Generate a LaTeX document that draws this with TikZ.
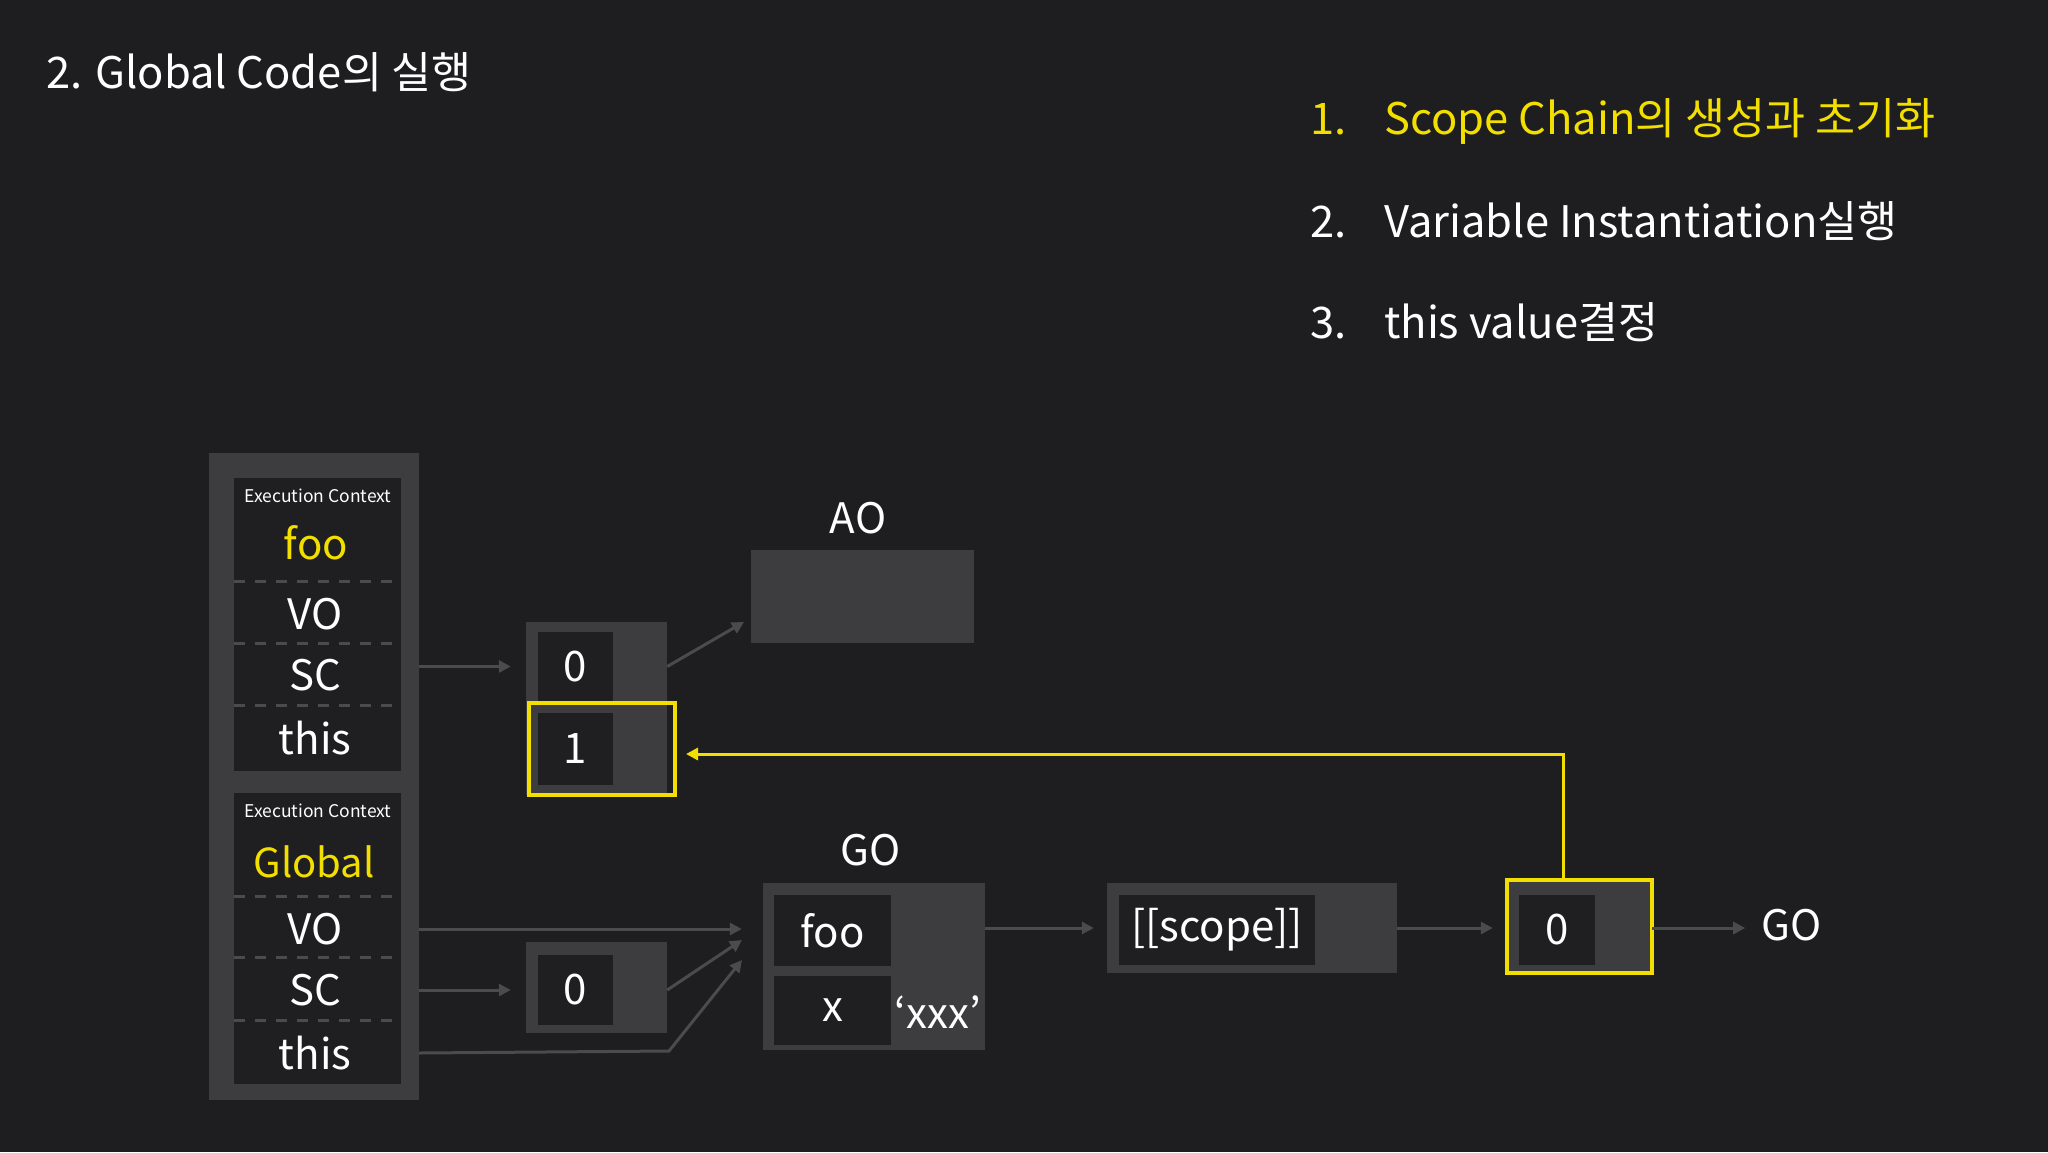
\documentclass[tikz,border=0pt]{standalone}
\usepackage{fontspec}
\setmainfont{Noto Sans CJK KR}
\usepackage{tikz}
\usetikzlibrary{arrows.meta, positioning, calc}
\definecolor{bgcol}{HTML}{1E1E20}
\definecolor{boxgray}{HTML}{3D3D3F}
\definecolor{cellcol}{HTML}{1F1F21}
\definecolor{linkgray}{HTML}{4B4B4D}
\definecolor{hlyellow}{HTML}{F2DF00}
\newcommand{\bigtxt}{\fontsize{42}{50}\selectfont}
\newcommand{\headtxt}{\fontsize{43.5}{52}\selectfont}
\newcommand{\smalltxt}{\fontsize{17.5}{21}\selectfont}
\tikzset{
  outerbox/.style={fill=boxgray, draw=none, inner sep=0pt},
  cellbox/.style={fill=cellcol, draw=none, inner sep=0pt},
  hlbox/.style={draw=hlyellow, line width=4pt, inner sep=0pt},
  lbl/.style={text=white, font=\bigtxt, inner sep=0pt},
  link/.style={draw=linkgray, line width=3pt, -{Triangle[length=12pt,width=12pt]}, shorten >=15pt},
  hlink/.style={draw=hlyellow, line width=3pt, -{Triangle[length=12pt,width=12pt]}},
  sep/.style={draw=linkgray, line width=3pt, dash pattern=on 11pt off 10pt}
}
\begin{document}
\begin{tikzpicture}[x=1pt, y=-1pt]
  \fill[bgcol] (0,0) rectangle (2048,1152);
  \useasboundingbox (0,0) rectangle (2048,1152);

  % headings
  \node (title) [anchor=base west, text=white, font=\headtxt, inner sep=0pt] at (46,88) {2. Global Code의 실행};
  \node (step1n) [anchor=base west, text=hlyellow, font=\headtxt, inner sep=0pt] at (1310,134) {1.};
  \node (step1) [anchor=base west, text=hlyellow, font=\headtxt, inner sep=0pt] at (1384,134) {Scope Chain의 생성과 초기화};
  \node (step2n) [anchor=base west, text=white, font=\headtxt, inner sep=0pt] at (1310,237) {2.};
  \node (step2) [anchor=base west, text=white, font=\headtxt, inner sep=0pt] at (1384,237) {Variable Instantiation실행};
  \node (step3n) [anchor=base west, text=white, font=\headtxt, inner sep=0pt] at (1310,338) {3.};
  \node (step3) [anchor=base west, text=white, font=\headtxt, inner sep=0pt] at (1384,338) {this value결정};

  % execution context stack
  \node (ecstack) [outerbox, minimum width=210pt, minimum height=647pt] at (314,776.5) {};
  \node (fooec) [cellbox, minimum width=167pt, minimum height=293pt] at (317.5,624.5) {};
  \node (globec) [cellbox, minimum width=167pt, minimum height=291pt] at (317.5,938.5) {};

  \node (fooectitle) [lbl, font=\smalltxt] at (318,496) {Execution Context};
  \node (fooname) [lbl, text=hlyellow] at (316,543) {foo};
  \node (foovo) [lbl] at (315,614) {VO};
  \node (foosc) [lbl] at (315,675) {SC};
  \node (foothis) [lbl] at (315,738) {this};
  \draw[sep] (234,581) -- (401,581);
  \draw[sep] (234,643) -- (401,643);
  \draw[sep] (234,705) -- (401,705);

  \node (globectitle) [lbl, font=\smalltxt] at (318,811) {Execution Context};
  \node (globname) [lbl, text=hlyellow, font=\fontsize{40}{48}\selectfont] at (314,862) {Global};
  \node (globvo) [lbl] at (315,929) {VO};
  \node (globsc) [lbl] at (315,990) {SC};
  \node (globthis) [lbl] at (315,1053) {this};
  \draw[sep] (234,896) -- (401,896);
  \draw[sep] (234,957) -- (401,957);
  \draw[sep] (234,1020) -- (401,1020);

  % scope chain of foo
  \node (foochain) [outerbox, minimum width=141pt, minimum height=173pt] at (596.5,708.5) {};
  \node (foocell0) [cellbox, minimum width=75pt, minimum height=69pt] at (575.5,666.5) {};
  \node (foocell1) [cellbox, minimum width=75pt, minimum height=72pt] at (575.5,749) {};
  \node [lbl] at (foocell0) {0};
  \node [lbl] at (foocell1) {1};
  \node (fooyel) [hlbox, minimum width=146pt, minimum height=92pt] at (602,749) {};
  \coordinate (fooin) at (686,754);

  % AO
  \node (ao) [outerbox, minimum width=223pt, minimum height=93pt] at (862.5,596.5) {};
  \node (aolbl) [lbl] at (858,518) {AO};
  \coordinate (aoin) at (744,622);

  % scope chain of global
  \node (globchain) [outerbox, minimum width=141pt, minimum height=91pt] at (596.5,987.5) {};
  \node (globcell0) [cellbox, minimum width=75pt, minimum height=70pt] at (575.5,990) {};
  \node [lbl] at (globcell0) {0};

  % GO
  \node (go) [outerbox, minimum width=222pt, minimum height=167pt] at (874,966.5) {};
  \node (gofoo) [cellbox, minimum width=117pt, minimum height=71pt] at (832.5,930.5) {};
  \node (gox) [cellbox, minimum width=117pt, minimum height=69pt] at (832.5,1010.5) {};
  \node [lbl] at (gofoo) {foo};
  \node [lbl] at (gox) {x};
  \node (goxval) [lbl] at (938,1012) {‘xxx’};
  \node (golbl) [lbl] at (871,850) {GO};
  \coordinate (goin1) at (742,940);
  \coordinate (goin2) at (742,960);
  \coordinate (thisbend) at (669,1051);

  % [[scope]]
  \node (scopebox) [outerbox, minimum width=290pt, minimum height=90pt] at (1252,928) {};
  \node (scopecell) [cellbox, minimum width=196pt, minimum height=70pt] at (1217,930) {};
  \node [lbl] at (scopecell) {[[scope]]};

  % scope chain of foo function object
  \node (fnchain) [outerbox, minimum width=145pt, minimum height=93pt] at (1579.5,926.5) {};
  \node (fncell0) [cellbox, minimum width=76pt, minimum height=70pt] at (1557,930) {};
  \node [lbl] at (fncell0) {0};
  \node (fnyel) [hlbox, minimum width=145pt, minimum height=93pt] at (1579.5,926.5) {};
  \coordinate (fnout) at (1563,880);
  \node (golast) [lbl] at (1792,925) {GO};

  % connectors
  \draw[link] (foocell0 -| ecstack.east) -- (foochain.west |- foocell0);
  \draw[link, shorten >=0pt] (foocell0 -| foochain.east) -- (aoin);
  \draw[hlink] (fnout) |- (fooin);
  \draw[link, shorten >=21pt] (globvo -| ecstack.east) -- (go.west |- globvo);
  \draw[link] (globsc -| ecstack.east) -- (globchain.west |- globsc);
  \draw[link, shorten >=0pt] (globsc -| globchain.east) -- (goin1);
  \draw[link, shorten >=0pt] (globthis -| ecstack.east) -- (thisbend) -- (goin2);
  \draw[link, shorten >=13pt] (go.east |- scopebox) -- (scopebox.west);
  \draw[link, shorten >=14pt] (scopebox.east) -- (fnchain.west |- scopebox);
  \draw[link, shorten >=0pt] (fnchain.east |- scopebox) -- ++(93,0);
\end{tikzpicture}
\end{document}
